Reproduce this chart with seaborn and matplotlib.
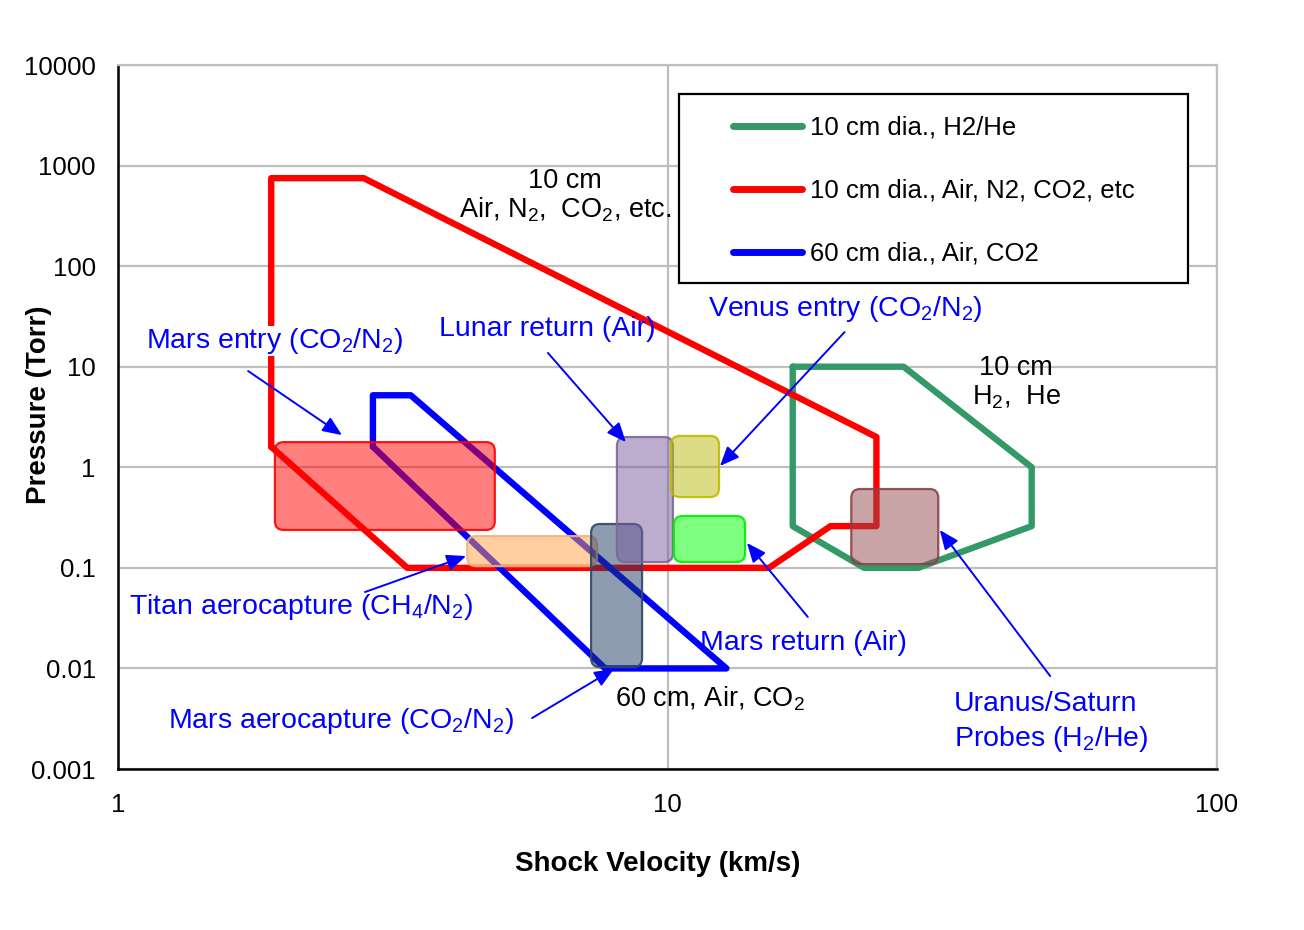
import numpy as np
import pandas as pd
import seaborn as sns
import matplotlib.pyplot as plt
from matplotlib.patches import FancyBboxPatch, Rectangle
from matplotlib.lines import Line2D
from matplotlib.ticker import FixedLocator, FixedFormatter, NullFormatter
from matplotlib.colors import to_rgb

# Test envelopes (shock velocity km/s, pressure Torr)
h2he_v = [16.9, 26.9, 46.0, 46.0, 28.6, 22.8, 16.9, 16.9]
h2he_p = [10.0, 10.0, 1.0, 0.26, 0.1, 0.1, 0.26, 10.0]
air10_v = [1.9, 1.9, 2.8, 24.0, 24.0, 19.8, 15.3, 3.36, 1.9]
air10_p = [1.6, 750.0, 750.0, 2.0, 0.26, 0.26, 0.1, 0.1, 1.6]
air60_v = [2.91, 2.91, 3.41, 12.8, 7.7, 2.91]
air60_p = [1.6, 5.2, 5.2, 0.01, 0.01, 1.6]

series_labels = ['10 cm dia., H2/He', '10 cm dia., Air, N2, CO2, etc', '60 cm dia., Air, CO2']
series_colors = ['#339966', '#FF0000', '#0000FF']

# Mission boxes: velocity range, pressure range
box_names = ['Mars entry', 'Titan aerocapture', 'Mars aerocapture', 'Lunar return',
             'Venus entry', 'Mars return', 'Uranus/Saturn']
box_v0 = [1.93, 4.32, 7.26, 8.09, 10.15, 10.27, 21.6]
box_v1 = [4.85, 7.44, 8.99, 10.23, 12.41, 13.84, 31.1]
box_p0 = [0.238, 0.104, 0.0103, 0.114, 0.506, 0.114, 0.109]
box_p1 = [1.78, 0.207, 0.273, 2.0, 2.05, 0.328, 0.608]
box_face = ['#FF0000', '#FFA040', '#1F3A60', '#7A5CA0', '#BBBB10', '#00FF00', '#934B50']
box_edge = ['#FF0000', '#F4B183', '#2F4766', '#7F6699', '#BBBB00', '#00EE00', '#8B4049']

# Annotation labels and arrows (tail -> head)
ann_text = [r'Mars entry (CO$_2$/N$_2$)', 'Lunar return (Air)', r'Venus entry (CO$_2$/N$_2$)',
            r'Titan aerocapture (CH$_4$/N$_2$)', 'Mars return (Air)',
            r'Mars aerocapture (CO$_2$/N$_2$)', 'Uranus/Saturn\n' + r'Probes (H$_2$/He)']
ann_xy = [(1.124, 18.0), (3.84, 23.7), (11.85, 37.5), (1.047, 0.0408), (11.46, 0.0179),
          (1.233, 0.0030), (33.2, 0.0029)]
arrow_tail = [(1.725, 9.06), (6.06, 13.7), (21.0, 22.1), (2.815, 0.0575), (18.0, 0.0325),
              (5.67, 0.00321), (49.7, 0.0084)]
arrow_head = [(2.556, 2.09), (8.40, 1.78), (12.46, 1.03), (4.30, 0.131), (13.95, 0.177),
              (7.99, 0.00987), (31.3, 0.238)]

sns.set_style('white')
plt.rcParams['font.family'] = ['Liberation Sans', 'DejaVu Sans']
plt.rcParams['mathtext.fontset'] = 'custom'
plt.rcParams['mathtext.rm'] = 'Liberation Sans'
plt.rcParams['mathtext.it'] = 'Liberation Sans:italic'
plt.rcParams['mathtext.bf'] = 'Liberation Sans:bold'
plt.rcParams['mathtext.default'] = 'regular'
plt.rcParams['text.color'] = 'black'
plt.rcParams['axes.labelcolor'] = 'black'

fig, ax = plt.subplots(figsize=(13.04, 9.30), dpi=100)
fig.subplots_adjust(left=118/1304, right=1217/1304, bottom=1-769/930, top=1-65/930)
ax.set_xscale('log')
ax.set_yscale('log')
ax.set_xlim(1, 100)
ax.set_ylim(0.001, 10000)

# Envelope outlines
for vv, pp, c in zip([h2he_v, air10_v, air60_v], [h2he_p, air10_p, air60_p], series_colors):
    sns.lineplot(x=vv, y=pp, sort=False, estimator=None, color=c, lw=4.6, ax=ax,
                 legend=False, zorder=3)

# Rounded mission boxes drawn in log space so corners stay round
logtrans = ax.transLimits + ax.transAxes
bb = ax.get_position()
px_dec_x = bb.width * fig.get_figwidth() * fig.dpi / 2
px_dec_y = bb.height * fig.get_figheight() * fig.dpi / 7
asp = px_dec_x / px_dec_y
for v0, v1, p0, p1, fc, ec in zip(box_v0, box_v1, box_p0, box_p1, box_face, box_edge):
    x0, x1 = np.log10(v0), np.log10(v1)
    y0, y1 = np.log10(p0), np.log10(p1)
    patch = FancyBboxPatch((x0, y0), x1 - x0, y1 - y0,
                           boxstyle='round,pad=0,rounding_size=0.016',
                           mutation_aspect=asp, transform=logtrans,
                           facecolor=(*to_rgb(fc), 0.5), edgecolor=(*to_rgb(ec), 0.9),
                           lw=1.6, zorder=4)
    ax.add_patch(patch)

# Blue annotations
for i, (txt, xy) in enumerate(zip(ann_text, ann_xy)):
    bbox = dict(facecolor='white', edgecolor='none', pad=0) if i == 0 else None
    ax.text(xy[0], xy[1], txt, color='#0000FF', fontsize=20.5, ha='left', va='center',
            linespacing=1.35, bbox=bbox, zorder=6)
for tail, head in zip(arrow_tail, arrow_head):
    ax.annotate('', xy=head, xytext=tail,
                arrowprops=dict(arrowstyle='-|>,head_length=0.9,head_width=0.38',
                                color='#0000FF', lw=1.4, mutation_scale=13,
                                shrinkA=0, shrinkB=0), zorder=6)

# Black envelope labels
ax.text(6.51, 498, '10 cm\n' + r'Air, N$_2$,  CO$_2$, etc.', fontsize=19.5, ha='center',
        va='center', linespacing=1.1, color='black', zorder=6)
ax.text(43.1, 6.89, '10 cm\n' + r'H$_2$,  He', fontsize=19.5, ha='center', va='center',
        linespacing=1.1, color='black', zorder=6)
ax.text(8.03, 0.00497, r'60 cm, Air, CO$_2$', fontsize=19.5, ha='left', va='center',
        color='black', zorder=6)

# Axes, ticks, grid
ax.xaxis.set_major_locator(FixedLocator([1, 10, 100]))
ax.xaxis.set_major_formatter(FixedFormatter(['1', '10', '100']))
ax.xaxis.set_minor_locator(FixedLocator([k * 10.0**e for e in range(0, 2) for k in range(2, 10)]))
ax.xaxis.set_minor_formatter(NullFormatter())
yt = [1e-3, 1e-2, 1e-1, 1, 10, 100, 1000, 10000]
ax.yaxis.set_major_locator(FixedLocator(yt))
ax.yaxis.set_major_formatter(FixedFormatter(['0.001', '0.01', '0.1', '1', '10', '100', '1000', '10000']))
ax.yaxis.set_minor_locator(FixedLocator([k * 10.0**e for e in range(-3, 4) for k in range(2, 10)]))
ax.yaxis.set_minor_formatter(NullFormatter())
ax.tick_params(which='major', direction='inout', length=10, width=1.5, labelsize=18.5,
               colors='black')
ax.tick_params(axis='x', which='major', pad=12)
ax.tick_params(axis='y', which='major', pad=11)
ax.tick_params(which='minor', direction='in', length=5, width=1.2, color='black')
ax.grid(True, which='major', color='#BFBFBF', lw=1.6)
ax.set_axisbelow(True)
for s in ['left', 'bottom']:
    ax.spines[s].set_color('black')
    ax.spines[s].set_linewidth(1.8)
for s in ['top', 'right']:
    ax.spines[s].set_color('#BFBFBF')
    ax.spines[s].set_linewidth(1.6)

ax.set_xlabel('Shock Velocity (km/s)', fontsize=20, fontweight='bold', color='black')
ax.set_ylabel('Pressure (Torr)', fontsize=20, fontweight='bold', color='black')
ax.xaxis.set_label_coords(0.4914, -0.1165)
ax.yaxis.set_label_coords(-0.060, 0.517)

# Legend with its own frame
frame = Rectangle((0.5105, 0.6903), 0.9736 - 0.5105, 0.9588 - 0.6903, transform=ax.transAxes,
                  facecolor='white', edgecolor='black', lw=1.6, zorder=5)
ax.add_patch(frame)
handles = [Line2D([], [], color=c, lw=5, solid_capstyle='round') for c in series_colors]
leg = ax.legend(handles, series_labels, loc='upper left', bbox_to_anchor=(0.5596, 0.9276),
                frameon=False, fontsize=18.5, handlelength=2.7, handletextpad=0.3,
                labelspacing=1.51, borderpad=0, borderaxespad=0)
for t in leg.get_texts():
    t.set_color('black')
leg.set_zorder(7)

fig.savefig('out.png', dpi=100)
